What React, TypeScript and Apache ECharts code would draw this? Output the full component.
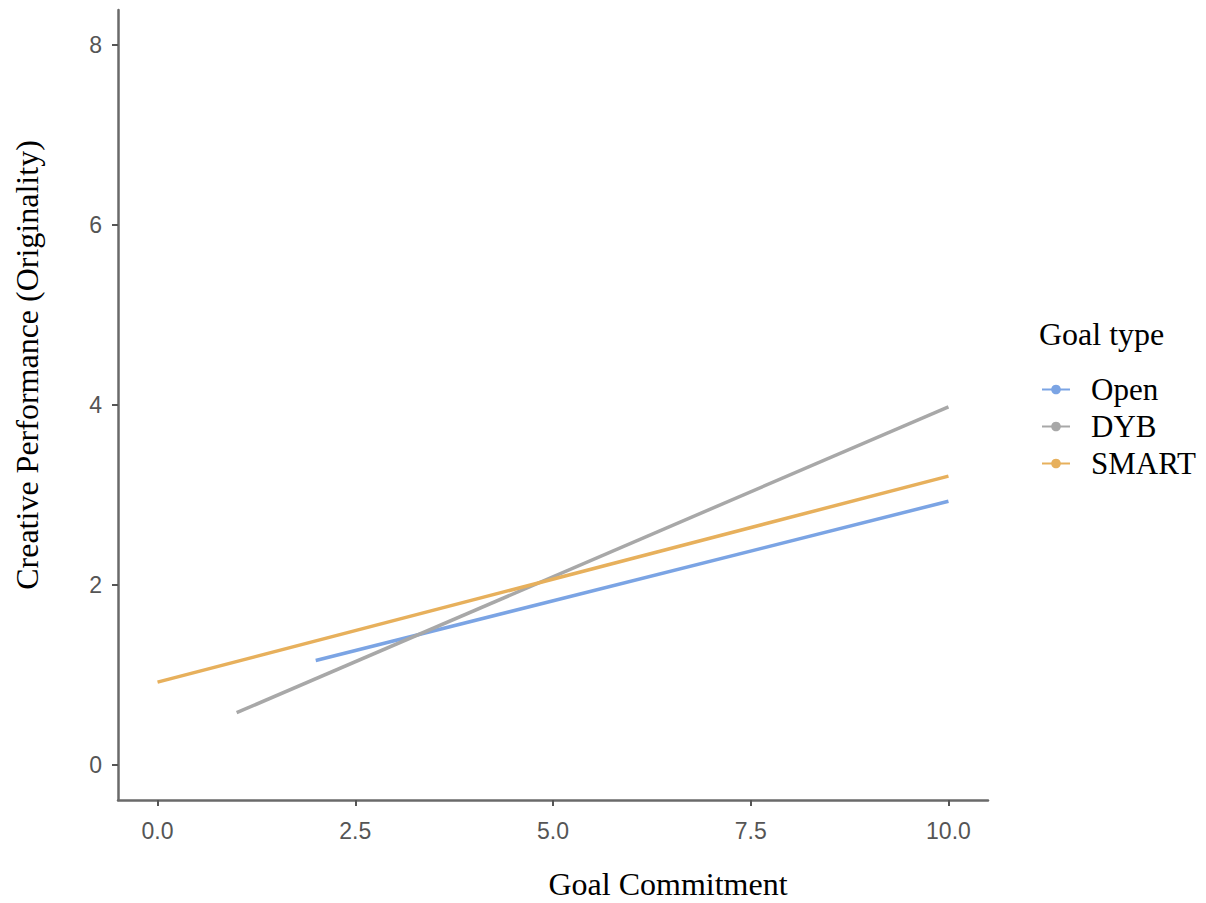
import React, { useEffect, useRef } from "react";
import * as echarts from "echarts";

const xTicks = [0, 2.5, 5, 7.5, 10];
const yTicks = [0, 2, 4, 6, 8];
const seriesNames = ["Open", "DYB", "SMART"];
const openData = [[2, 1.16], [10, 2.93]];
const dybData = [[1, 0.58], [10, 3.98]];
const smartData = [[0, 0.92], [10, 3.21]];
const colors = ["#7ba4e4", "#a8a8a8", "#e7b05c"];

export default function App() {
  const ref = useRef<HTMLDivElement>(null);
  useEffect(() => {
    const chart = echarts.init(ref.current!, null, { renderer: "svg" });
    const datas = [openData, dybData, smartData];
    chart.setOption({
      animation: false,
      grid: { left: 118, right: 218, top: 10, bottom: 103 },
      xAxis: {
        type: "value",
        min: -0.5,
        max: 10.5,
        splitLine: { show: false },
        axisLine: { show: true, onZero: false, lineStyle: { color: "#6a6a6a", width: 2.5 } },
        axisTick: { show: true, customValues: xTicks, length: 6, lineStyle: { color: "#555", width: 2 } },
        axisLabel: {
          customValues: xTicks,
          formatter: (v: number) => v.toFixed(1),
          color: "#555",
          fontSize: 23,
          fontFamily: "Liberation Sans",
          margin: 19,
        },
      },
      yAxis: {
        type: "value",
        min: -0.39,
        max: 8.39,
        splitLine: { show: false },
        axisLine: { show: true, onZero: false, lineStyle: { color: "#6a6a6a", width: 2.5 } },
        axisTick: { show: true, customValues: yTicks, length: 6, lineStyle: { color: "#555", width: 2 } },
        axisLabel: {
          customValues: yTicks,
          color: "#555",
          fontSize: 23,
          fontFamily: "Liberation Sans",
          margin: 16,
        },
      },
      legend: {
        orient: "vertical",
        left: 1036,
        top: 369,
        itemWidth: 28,
        itemHeight: 12,
        itemGap: 6,
        data: seriesNames,
        textStyle: { fontSize: 31, fontFamily: "Liberation Serif", color: "#000", padding: [0, 0, 0, 16] },
      },
      graphic: [
        {
          type: "text",
          left: 1039,
          top: 318,
          style: { text: "Goal type", font: "32px 'Liberation Serif'", fill: "#000" },
        },
        {
          type: "text",
          x: 668,
          y: 884,
          style: { text: "Goal Commitment", font: "32px 'Liberation Serif'", fill: "#000", align: "center", verticalAlign: "middle" },
        },
        {
          type: "text",
          x: 27,
          y: 365,
          rotation: Math.PI / 2,
          style: { text: "Creative Performance (Originality)", font: "32px 'Liberation Serif'", fill: "#000", align: "center", verticalAlign: "middle" },
        },
      ],
      series: seriesNames.map((name, i) => ({
        name,
        type: "line",
        data: datas[i],
        symbol: "circle",
        symbolSize: 10,
        showSymbol: false,
        lineStyle: { color: colors[i], width: 3.5 },
        itemStyle: { color: colors[i] },
      })),
    });
    return () => chart.dispose();
  }, []);
  return <div ref={ref} style={{ width: 1206, height: 903, position: "absolute", left: 0, top: 0 }} />;
}
